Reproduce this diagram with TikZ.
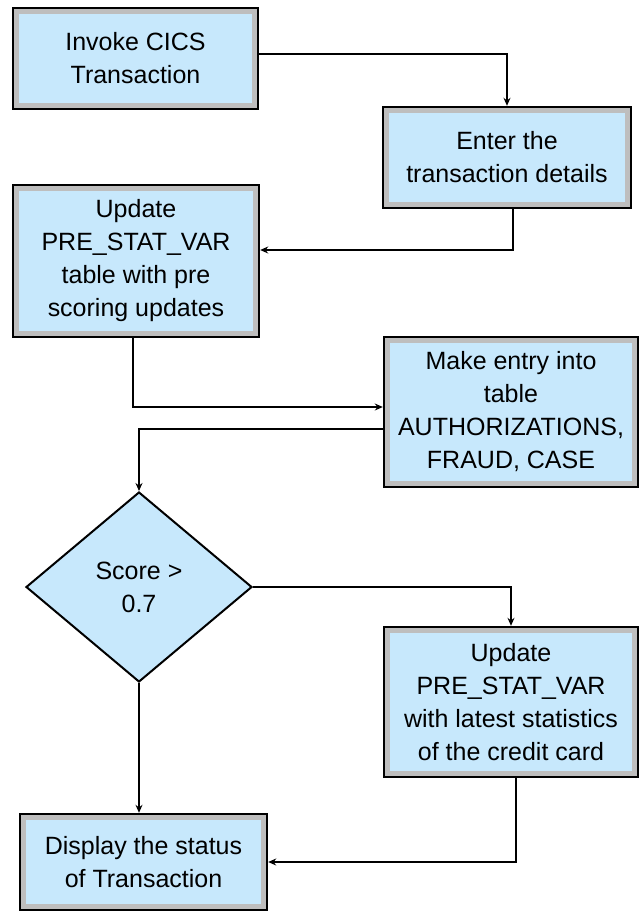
\documentclass[tikz,border=0pt]{standalone}
\usepackage{fontspec}
\setmainfont{Liberation Sans}
\usepackage{color}
\definecolor{myboxblue}{RGB}{199,232,252}
\definecolor{myboxgray}{RGB}{190,190,190}
\usepackage{tikz}
\usetikzlibrary{calc,arrows.meta,shapes.geometric,positioning}
\tikzstyle{procbox}=[draw=black,line width=1.2pt,fill=myboxgray,align=center,inner sep=0pt,
  font=\fontsize{12.5}{16.5}\selectfont,
  path picture={\fill[myboxblue] ($(path picture bounding box.south west)+(3.2pt,3.2pt)$) rectangle ($(path picture bounding box.north east)-(3.2pt,3.2pt)$);}]
\tikzstyle{decision}=[draw=black,line width=1pt,fill=myboxblue,diamond,align=center,inner sep=0pt,
  minimum width=113pt,minimum height=95pt,font=\fontsize{12.5}{16.5}\selectfont]

\begin{document}
\begin{tikzpicture}[x=0.5pt,y=-0.5pt,line width=1pt,>={Stealth[length=4pt,width=3.5pt]}]
\useasboundingbox (0,0) rectangle (639,912);
\draw (135.5, 58.5) node [procbox, minimum width=122.5pt, minimum height=50.5pt] (invoke) {Invoke CICS\\Transaction};
\draw (507, 157.5) node [procbox, minimum width=124pt, minimum height=50.5pt] (enter) {Enter the\\transaction details};
\draw (136, 261) node [procbox, minimum width=123pt, minimum height=76pt] (prescore) {Update\\PRE\_STAT\_VAR\\table with pre\\scoring updates};
\draw (511, 412) node [procbox, minimum width=127pt, minimum height=75pt] (entry) {Make entry into\\table\\AUTHORIZATIONS,\\FRAUD, CASE};
\draw (139, 587) node [decision] (score) {Score >\\0.7};
\draw (511, 702) node [procbox, minimum width=127pt, minimum height=75pt] (latest) {Update\\PRE\_STAT\_VAR\\with latest statistics\\of the credit card};
\draw (143.5, 862) node [procbox, minimum width=123.5pt, minimum height=48pt] (display) {Display the status\\of Transaction};
\draw[->] ([yshift=2.5pt]invoke.east) -| (enter.north);
\draw[->] ([xshift=3pt]enter.south) |- ([yshift=5.5pt]prescore.east);
\draw[->] ([xshift=-1.5pt]prescore.south) |- ([yshift=2.5pt]entry.west);
\draw[->] ([yshift=-8.5pt]entry.west) -| (score.north);
\draw[->] (score.east) -| (latest.north);
\draw[->] (score.south) -- (score.south |- display.north);
\draw[->] ([xshift=2.5pt]latest.south) |- (display.east);
\end{tikzpicture}
\end{document}
